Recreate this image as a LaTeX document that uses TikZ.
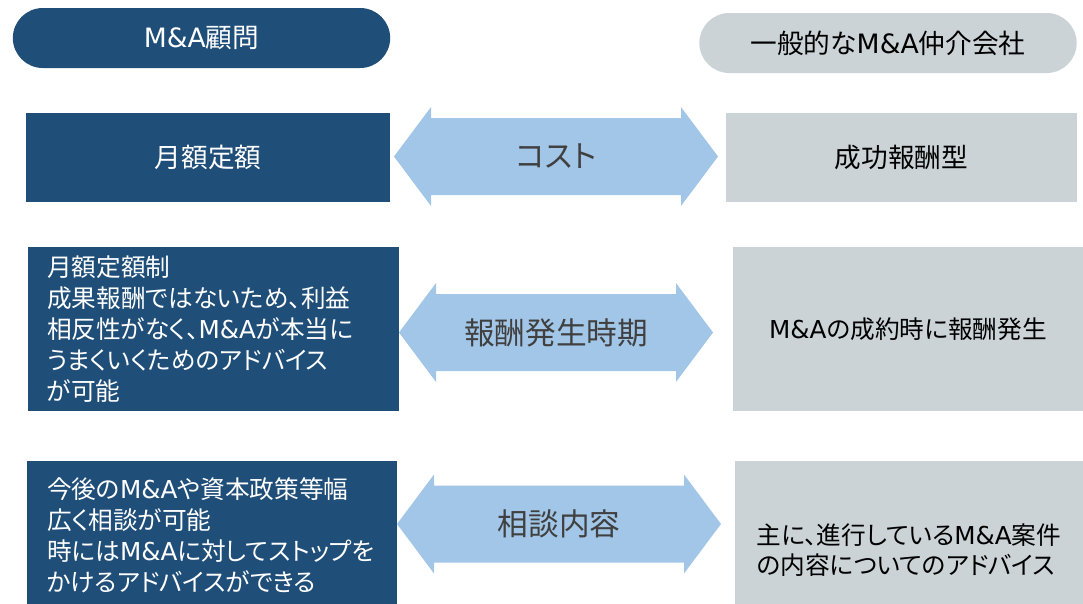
\documentclass[tikz,border=0pt]{standalone}
\usepackage{fontspec}
\setmainfont{Noto Sans CJK JP}[RawFeature=+palt]
\newfontfamily\latinfont{DejaVu Sans}
\newcommand\MnA{{\latinfont M\&A}}

\definecolor{advisorblue}{HTML}{1F4E79}
\definecolor{brokergray}{HTML}{CBD3D6}
\definecolor{arrowblue}{HTML}{A2C6E7}
\definecolor{labelgray}{HTML}{404040}

\begin{document}
\begin{tikzpicture}[x=0.75pt, y=-0.75pt]

	%% The page, in pixels of the original slide
	\clip (0,0) rectangle (1083,604);

	%% The two column headers
	\begin{scope}[every node/.style={rounded corners=22.5pt, minimum width=283pt, minimum height=45pt, font=\fontsize{20}{24}\selectfont}]
		\node at (201.5,38) [fill=advisorblue, text=white] (advisor) {\MnA 顧問};
		\node at (888,43) [fill=brokergray, text=black] (broker) {一般的な\MnA 仲介会社};
	\end{scope}

	%% The advisor column (left)
	\begin{scope}[every node/.style={fill=advisorblue, text=white, inner sep=0pt, font=\fontsize{18.5}{23.25}\selectfont}]
		\node at (208,157.5) [minimum width=273pt, minimum height=66.75pt, font=\fontsize{20}{24}\selectfont] (costL) {月額定額};
		\node at (213.5,329) [minimum width=278.25pt, minimum height=123pt, text width=249.75pt, align=left] (timeL) {月額定額制\\成果報酬ではないため、利益\\相反性がなく、\MnA が本当に\\うまくいくためのアドバイス\\が可能};
		\node at (212,535) [minimum width=277.5pt, minimum height=111pt, text width=247.5pt, align=left] (talkL) {今後の\MnA や資本政策等幅\\広く相談が可能\\時には\MnA に対してストップを\\かけるアドバイスができる};
	\end{scope}

	%% The broker column (right)
	\begin{scope}[every node/.style={fill=brokergray, text=black, inner sep=0pt, font=\fontsize{18.5}{22.5}\selectfont}]
		\node at (901.5,157.5) [minimum width=263.25pt, minimum height=66.75pt, font=\fontsize{20}{24}\selectfont] (costR) {成功報酬型};
		\node at (908,329) [minimum width=262.5pt, minimum height=123pt] (timeR) {\MnA の成約時に報酬発生};
		\node at (909,550) [minimum width=261pt, minimum height=133.5pt, align=left] (talkR) {主に、進行している\MnA 案件\\の内容についてのアドバイス};
	\end{scope}

	%% The double arrows between the columns, with their labels
	\foreach \xa/\xb/\y/\name/\txt in {394/718/156.5/cost/コスト, 399/713/332.5/time/報酬発生時期, 397/721/524/talk/相談内容}{%
		\fill[arrowblue] (\xa,\y) -- (\xa+37,\y-49.5) -- (\xa+37,\y-38.5) -- (\xb-37,\y-38.5) -- (\xb-37,\y-49.5) -- (\xb,\y)
			-- (\xb-37,\y+49.5) -- (\xb-37,\y+38.5) -- (\xa+37,\y+38.5) -- (\xa+37,\y+49.5) -- cycle;
		\node at ({(\xa+\xb)/2},\y) [text=labelgray, font=\fontsize{23}{27}\selectfont] (\name) {\txt};
	}

\end{tikzpicture}
\end{document}
